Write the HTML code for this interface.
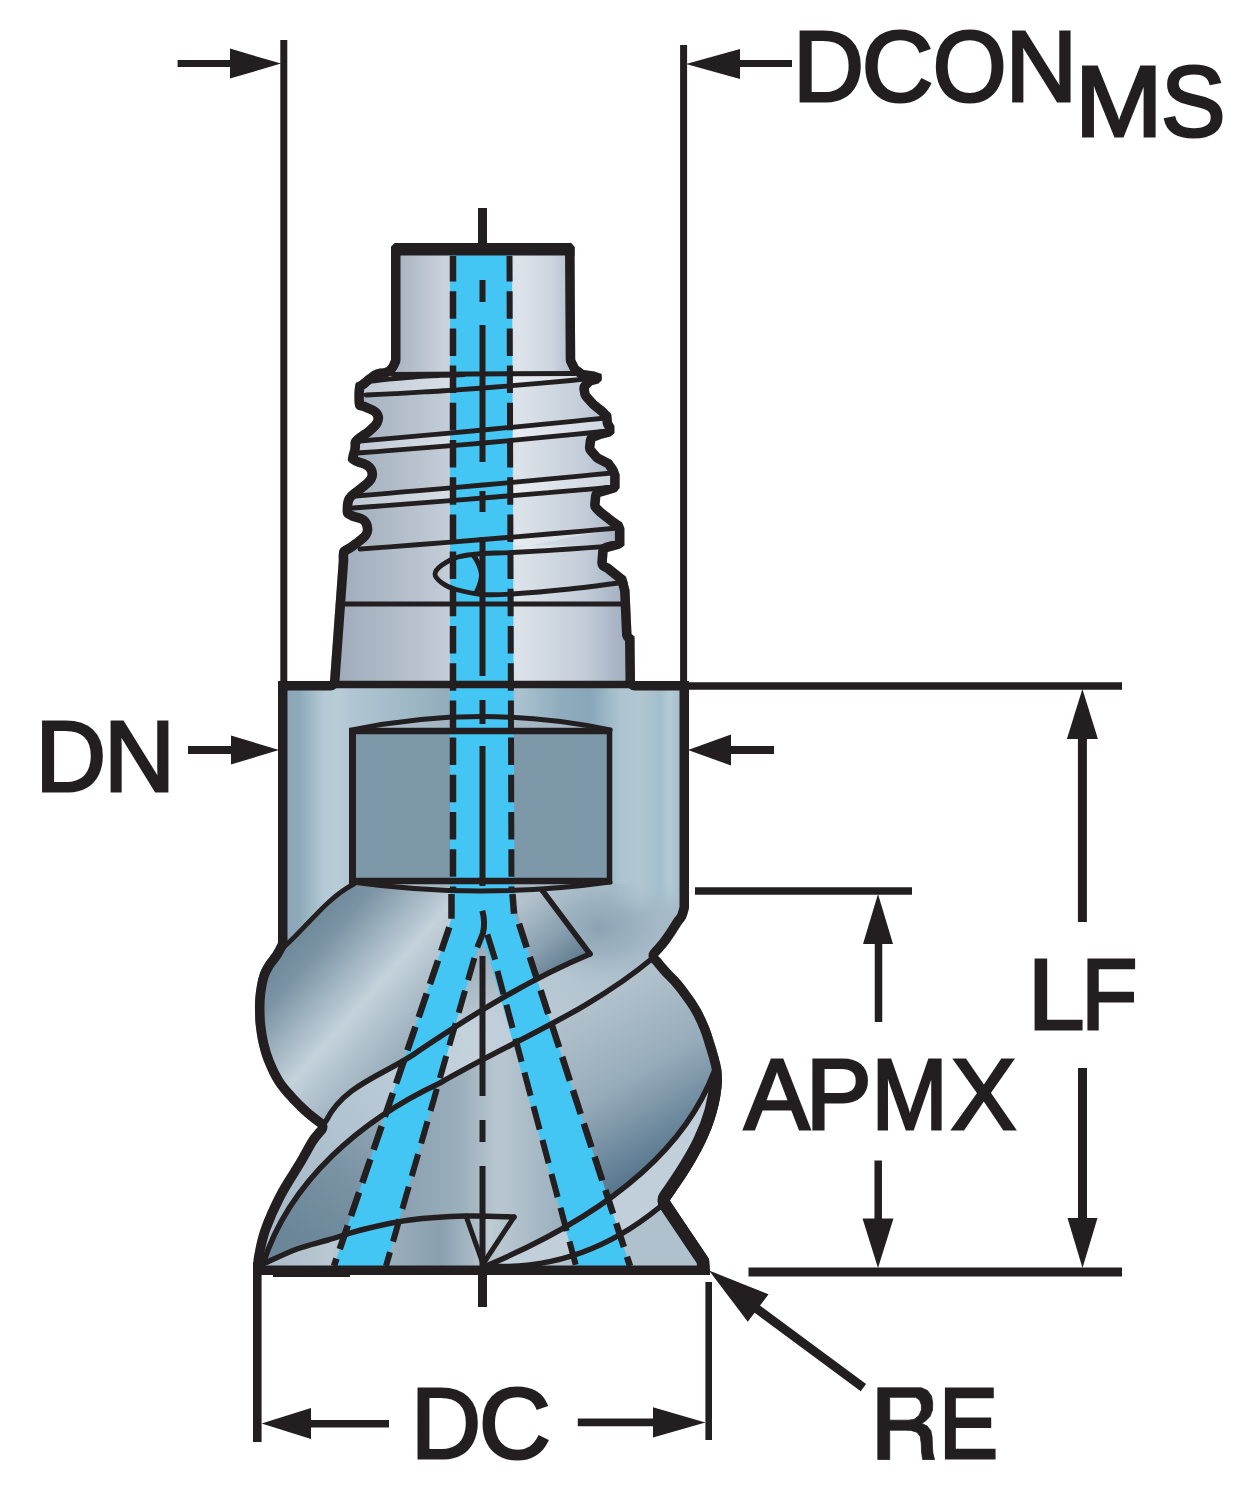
<!DOCTYPE html>
<html><head><meta charset="utf-8"><style>
html,body{margin:0;padding:0;background:#fff;}
svg{display:block;}
.t{font-family:"Liberation Sans",sans-serif;font-size:100px;fill:#231f20;stroke:#231f20;stroke-width:3px;}
</style></head><body>
<svg width="1255" height="1500" viewBox="0 0 1255 1500">
<rect width="1255" height="1500" fill="#fff"/>

<defs>
<clipPath id="sil"><path d="M391 247 L395 243 L571 243 L574.5 247 L575.2 359.6 L578.4 366 L584 370 L594.4 371.6 L601.6 374 L601.6 380.4 L598.4 383.6 L592 385.2 L588.8 388.4 L589.6 393.2 L596.8 401.2 L604.8 407.6 L611.2 414 L612 422 L614.4 426 L614.4 433.2 L610.4 436.4 L601.6 438.8 L595.2 441.2 L594.4 447.6 L600 454 L611.6 460 L617.2 468 L619.6 474.4 L619.6 488 L616.4 492 L608.4 494.4 L600.4 496.8 L599.6 504.8 L603.6 508.8 L614.8 517.6 L622 522.4 L624.4 528 L624.4 545.6 L619.6 548.8 L607.6 552 L606.8 562.4 L610 564 L626 576.8 L629.5 590 L631.5 634 L634.5 636.5 L635 681 L689 681 L689 908 C688.5 909.7 687.3 915.2 686.0 918.0 C684.7 920.8 683.0 922.0 681.0 925.0 C679.0 928.0 676.5 932.3 674.0 936.0 C671.5 939.7 668.7 943.7 666.0 947.0 C663.3 950.3 659.3 954.5 658.0 956.0 C658.5 956.5 659.2 956.9 661.0 959.0 C662.8 961.1 665.8 965.0 669.0 968.5 C672.2 972.0 676.5 975.9 680.0 980.0 C683.5 984.1 686.7 988.3 690.0 993.0 C693.3 997.7 696.8 1002.3 700.0 1008.0 C703.2 1013.7 706.7 1021.3 709.0 1027.0 C711.3 1032.7 712.4 1037.0 714.0 1042.0 C715.6 1047.0 717.2 1052.3 718.5 1057.0 C719.8 1061.7 720.9 1066.2 721.5 1070.0 C722.1 1073.8 721.9 1078.3 722.0 1080.0 C719.7 1126.0 695.6 1163.8 670.0 1200.0 L670 1201 L709 1259 L710 1275 L253 1275 L253.5 1266 C253.7 1264.0 253.2 1260.3 254.5 1254.0 C255.8 1247.7 257.4 1238.0 261.0 1228.0 C264.6 1218.0 270.0 1205.5 276.0 1194.0 C282.0 1182.5 291.5 1168.3 297.0 1159.0 C302.5 1149.7 305.5 1143.3 309.0 1138.0 C312.5 1132.7 316.5 1128.8 318.0 1127.0 C315.5 1125.0 308.0 1119.5 303.0 1115.0 C298.0 1110.5 292.7 1105.2 288.0 1100.0 C283.3 1094.8 278.8 1090.0 275.0 1084.0 C271.2 1078.0 267.7 1070.5 265.0 1064.0 C262.3 1057.5 260.5 1051.3 259.0 1045.0 C257.5 1038.7 256.5 1031.8 255.8 1026.0 C255.1 1020.2 255.1 1014.7 255.0 1010.0 C254.9 1005.3 255.0 1002.2 255.3 998.0 C255.6 993.8 256.2 989.2 257.0 985.0 C257.8 980.8 258.6 976.8 260.0 973.0 C261.4 969.2 263.4 965.8 265.5 962.5 C267.6 959.2 270.4 956.2 272.5 953.0 C274.6 949.8 277.1 944.7 278.0 943.0 L278 681 L330 681 L338.8 560 C338.8 559.0 338.5 555.9 338.8 554.0 C339.1 552.1 338.7 550.3 340.4 548.4 C342.1 546.5 346.0 545.1 349.2 542.8 C352.4 540.5 357.3 536.9 359.6 534.8 C361.9 532.7 362.7 531.9 362.8 530.0 C362.9 528.1 362.4 525.2 360.4 523.6 C358.4 522.0 353.6 521.7 350.8 520.4 C348.0 519.1 344.9 518.0 343.6 515.6 C342.3 513.2 342.7 508.9 342.8 506.0 C342.9 503.1 343.5 500.3 344.4 498.0 C345.3 495.7 346.4 494.4 348.4 492.4 C350.4 490.4 353.6 488.3 356.4 486.0 C359.2 483.7 363.3 480.8 365.2 478.8 C367.1 476.8 367.7 475.6 367.6 474.0 C367.5 472.4 366.4 470.5 364.4 469.2 C362.4 467.9 358.3 467.3 355.6 466.0 C352.9 464.7 349.6 462.9 348.4 461.2 C347.2 459.5 348.1 458.2 348.4 456.0 C348.7 453.8 349.9 450.7 350.4 448.0 C350.9 445.3 350.0 442.4 351.2 440.0 C352.4 437.6 355.2 435.6 357.6 433.6 C360.0 431.6 363.1 430.1 365.6 428.0 C368.1 425.9 371.7 422.9 372.8 420.8 C373.9 418.7 373.6 416.8 372.0 415.2 C370.4 413.6 366.0 412.7 363.2 411.2 C360.4 409.7 356.5 410.7 355.2 406.4 C353.9 402.1 354.4 389.9 355.2 385.6 C356.0 381.3 356.9 383.3 360.0 380.8 C363.1 378.3 369.2 372.7 373.6 370.4 C378.0 368.1 383.5 368.9 386.4 367.2 C389.3 365.5 390.2 361.2 391.0 360.0  Z"/></clipPath>
<linearGradient id="gShank" x1="391" x2="575" y1="0" y2="0" gradientUnits="userSpaceOnUse">
 <stop offset="0" stop-color="#a5b0bf"/><stop offset="0.28" stop-color="#c8d0db"/>
 <stop offset="0.7" stop-color="#dde3ea"/><stop offset="0.88" stop-color="#cbd4df"/><stop offset="1" stop-color="#adbac9"/>
</linearGradient>
<linearGradient id="gThread" x1="340" x2="630" y1="0" y2="0" gradientUnits="userSpaceOnUse">
 <stop offset="0" stop-color="#a0acbb"/><stop offset="0.3" stop-color="#bcc6d2"/>
 <stop offset="0.62" stop-color="#dce2e9"/><stop offset="0.85" stop-color="#c2ccd8"/><stop offset="1" stop-color="#9dabbb"/>
</linearGradient>
<linearGradient id="gBand" x1="340" x2="630" y1="0" y2="0" gradientUnits="userSpaceOnUse">
 <stop offset="0" stop-color="#bcc6d1"/><stop offset="0.35" stop-color="#d5dce4"/>
 <stop offset="0.62" stop-color="#e6ebf0"/><stop offset="1" stop-color="#c8d1dc"/>
</linearGradient>
<linearGradient id="gNeck" x1="279" x2="688" y1="0" y2="0" gradientUnits="userSpaceOnUse">
 <stop offset="0.02" stop-color="#8aa6b7"/><stop offset="0.05" stop-color="#8eaaba"/><stop offset="0.08" stop-color="#a0b9c7"/>
 <stop offset="0.112" stop-color="#b5cad6"/><stop offset="0.15" stop-color="#b8ccd7"/><stop offset="0.174" stop-color="#b0c6d2"/>
 <stop offset="0.3" stop-color="#a1bac8"/><stop offset="0.406" stop-color="#93adbc"/><stop offset="0.589" stop-color="#aac2cf"/>
 <stop offset="0.687" stop-color="#8facbe"/><stop offset="0.76" stop-color="#87a6b8"/><stop offset="0.834" stop-color="#acc4d0"/>
 <stop offset="0.883" stop-color="#b0c7d2"/><stop offset="0.932" stop-color="#a4becc"/><stop offset="0.956" stop-color="#b3cbd6"/><stop offset="0.98" stop-color="#a5becb"/>
</linearGradient>
<linearGradient id="gR1" x1="272" y1="935" x2="440" y2="1085" gradientUnits="userSpaceOnUse">
 <stop offset="0" stop-color="#668294"/><stop offset="0.2" stop-color="#7b94a5"/><stop offset="0.5" stop-color="#c4d2db"/><stop offset="0.75" stop-color="#9fb2bf"/><stop offset="1" stop-color="#8198a9"/>
</linearGradient>
<linearGradient id="gLand" x1="300" y1="1200" x2="680" y2="950" gradientUnits="userSpaceOnUse">
 <stop offset="0" stop-color="#a9bccb"/><stop offset="0.5" stop-color="#c4d2dc"/><stop offset="1" stop-color="#a6bac7"/>
</linearGradient>
<linearGradient id="gFade" x1="0" y1="880" x2="0" y2="915" gradientUnits="userSpaceOnUse">
 <stop offset="0" stop-color="#fff"/><stop offset="0.12" stop-color="#fff"/><stop offset="1" stop-color="#000"/>
</linearGradient>
<linearGradient id="gFadeL" x1="606" y1="0" x2="640" y2="0" gradientUnits="userSpaceOnUse">
 <stop offset="0" stop-color="#000" stop-opacity="1"/><stop offset="1" stop-color="#000" stop-opacity="0"/>
</linearGradient>
<mask id="mFade" maskUnits="userSpaceOnUse" x="590" y="870" width="120" height="60"><rect x="590" y="870" width="120" height="60" fill="url(#gFade)"/><rect x="590" y="884" width="120" height="46" fill="url(#gFadeL)"/></mask>
<radialGradient id="rgDark">
 <stop offset="0" stop-color="#7f99ab" stop-opacity="0.75"/><stop offset="0.5" stop-color="#8aa2b3" stop-opacity="0.45"/><stop offset="1" stop-color="#9fb3c1" stop-opacity="0"/>
</radialGradient>
<linearGradient id="gR4l" x1="420" y1="1090" x2="300" y2="1240" gradientUnits="userSpaceOnUse">
 <stop offset="0" stop-color="#9db1be"/><stop offset="0.6" stop-color="#7a93a4"/><stop offset="1" stop-color="#6a8698"/>
</linearGradient>
<linearGradient id="gR4m" x1="400" y1="0" x2="580" y2="0" gradientUnits="userSpaceOnUse">
 <stop offset="0" stop-color="#8aa0b0"/><stop offset="0.35" stop-color="#9cb0bd"/><stop offset="0.55" stop-color="#b9c7d0"/><stop offset="0.75" stop-color="#a8bac6"/><stop offset="1" stop-color="#94a9b8"/>
</linearGradient>
<linearGradient id="gR4r" x1="585" y1="1010" x2="675" y2="1165" gradientUnits="userSpaceOnUse">
 <stop offset="0" stop-color="#b0c1cc"/><stop offset="0.45" stop-color="#97acbb"/><stop offset="1" stop-color="#52728a"/>
</linearGradient>
<linearGradient id="gV" x1="470" y1="930" x2="500" y2="1010" gradientUnits="userSpaceOnUse">
 <stop offset="0" stop-color="#8ea3b2"/><stop offset="1" stop-color="#b9c7d1"/>
</linearGradient>
<linearGradient id="gR4" x1="320" y1="1230" x2="690" y2="1080" gradientUnits="userSpaceOnUse">
 <stop offset="0" stop-color="#6a8698"/><stop offset="0.4" stop-color="#a9bbc7"/><stop offset="0.7" stop-color="#8ea5b4"/><stop offset="1" stop-color="#577588"/>
</linearGradient>
<linearGradient id="gTri" x1="528" y1="898" x2="585" y2="968" gradientUnits="userSpaceOnUse">
 <stop offset="0" stop-color="#b2c2cc"/><stop offset="0.5" stop-color="#8aa1b1"/><stop offset="1" stop-color="#557287"/>
</linearGradient>
<linearGradient id="gLow" x1="260" y1="0" x2="710" y2="0" gradientUnits="userSpaceOnUse">
 <stop offset="0" stop-color="#a8bbc8"/><stop offset="0.155" stop-color="#b9c8d2"/><stop offset="0.31" stop-color="#97abb9"/><stop offset="0.4" stop-color="#8aa0b0"/>
 <stop offset="0.465" stop-color="#a3b6c2"/><stop offset="0.51" stop-color="#bfcdd5"/><stop offset="0.58" stop-color="#a6b8c4"/><stop offset="0.75" stop-color="#b4c4ce"/><stop offset="1" stop-color="#b9c8d2"/>
</linearGradient>
<linearGradient id="gLens" x1="352" x2="610" y1="0" y2="0" gradientUnits="userSpaceOnUse">
 <stop offset="0" stop-color="#b5c5d0"/><stop offset="0.4" stop-color="#9fb2bf"/><stop offset="1" stop-color="#a9bbc7"/>
</linearGradient>
</defs>
<path d="M391 247 L395 243 L571 243 L574.5 247 L575.2 359.6 L578.4 366 L584 370 L594.4 371.6 L601.6 374 L601.6 380.4 L598.4 383.6 L592 385.2 L588.8 388.4 L589.6 393.2 L596.8 401.2 L604.8 407.6 L611.2 414 L612 422 L614.4 426 L614.4 433.2 L610.4 436.4 L601.6 438.8 L595.2 441.2 L594.4 447.6 L600 454 L611.6 460 L617.2 468 L619.6 474.4 L619.6 488 L616.4 492 L608.4 494.4 L600.4 496.8 L599.6 504.8 L603.6 508.8 L614.8 517.6 L622 522.4 L624.4 528 L624.4 545.6 L619.6 548.8 L607.6 552 L606.8 562.4 L610 564 L626 576.8 L629.5 590 L631.5 634 L634.5 636.5 L635 681 L689 681 L689 908 C688.5 909.7 687.3 915.2 686.0 918.0 C684.7 920.8 683.0 922.0 681.0 925.0 C679.0 928.0 676.5 932.3 674.0 936.0 C671.5 939.7 668.7 943.7 666.0 947.0 C663.3 950.3 659.3 954.5 658.0 956.0 C658.5 956.5 659.2 956.9 661.0 959.0 C662.8 961.1 665.8 965.0 669.0 968.5 C672.2 972.0 676.5 975.9 680.0 980.0 C683.5 984.1 686.7 988.3 690.0 993.0 C693.3 997.7 696.8 1002.3 700.0 1008.0 C703.2 1013.7 706.7 1021.3 709.0 1027.0 C711.3 1032.7 712.4 1037.0 714.0 1042.0 C715.6 1047.0 717.2 1052.3 718.5 1057.0 C719.8 1061.7 720.9 1066.2 721.5 1070.0 C722.1 1073.8 721.9 1078.3 722.0 1080.0 C719.7 1126.0 695.6 1163.8 670.0 1200.0 L670 1201 L709 1259 L710 1275 L253 1275 L253.5 1266 C253.7 1264.0 253.2 1260.3 254.5 1254.0 C255.8 1247.7 257.4 1238.0 261.0 1228.0 C264.6 1218.0 270.0 1205.5 276.0 1194.0 C282.0 1182.5 291.5 1168.3 297.0 1159.0 C302.5 1149.7 305.5 1143.3 309.0 1138.0 C312.5 1132.7 316.5 1128.8 318.0 1127.0 C315.5 1125.0 308.0 1119.5 303.0 1115.0 C298.0 1110.5 292.7 1105.2 288.0 1100.0 C283.3 1094.8 278.8 1090.0 275.0 1084.0 C271.2 1078.0 267.7 1070.5 265.0 1064.0 C262.3 1057.5 260.5 1051.3 259.0 1045.0 C257.5 1038.7 256.5 1031.8 255.8 1026.0 C255.1 1020.2 255.1 1014.7 255.0 1010.0 C254.9 1005.3 255.0 1002.2 255.3 998.0 C255.6 993.8 256.2 989.2 257.0 985.0 C257.8 980.8 258.6 976.8 260.0 973.0 C261.4 969.2 263.4 965.8 265.5 962.5 C267.6 959.2 270.4 956.2 272.5 953.0 C274.6 949.8 277.1 944.7 278.0 943.0 L278 681 L330 681 L338.8 560 C338.8 559.0 338.5 555.9 338.8 554.0 C339.1 552.1 338.7 550.3 340.4 548.4 C342.1 546.5 346.0 545.1 349.2 542.8 C352.4 540.5 357.3 536.9 359.6 534.8 C361.9 532.7 362.7 531.9 362.8 530.0 C362.9 528.1 362.4 525.2 360.4 523.6 C358.4 522.0 353.6 521.7 350.8 520.4 C348.0 519.1 344.9 518.0 343.6 515.6 C342.3 513.2 342.7 508.9 342.8 506.0 C342.9 503.1 343.5 500.3 344.4 498.0 C345.3 495.7 346.4 494.4 348.4 492.4 C350.4 490.4 353.6 488.3 356.4 486.0 C359.2 483.7 363.3 480.8 365.2 478.8 C367.1 476.8 367.7 475.6 367.6 474.0 C367.5 472.4 366.4 470.5 364.4 469.2 C362.4 467.9 358.3 467.3 355.6 466.0 C352.9 464.7 349.6 462.9 348.4 461.2 C347.2 459.5 348.1 458.2 348.4 456.0 C348.7 453.8 349.9 450.7 350.4 448.0 C350.9 445.3 350.0 442.4 351.2 440.0 C352.4 437.6 355.2 435.6 357.6 433.6 C360.0 431.6 363.1 430.1 365.6 428.0 C368.1 425.9 371.7 422.9 372.8 420.8 C373.9 418.7 373.6 416.8 372.0 415.2 C370.4 413.6 366.0 412.7 363.2 411.2 C360.4 409.7 356.5 410.7 355.2 406.4 C353.9 402.1 354.4 389.9 355.2 385.6 C356.0 381.3 356.9 383.3 360.0 380.8 C363.1 378.3 369.2 372.7 373.6 370.4 C378.0 368.1 383.5 368.9 386.4 367.2 C389.3 365.5 390.2 361.2 391.0 360.0  Z" fill="url(#gThread)"/>
<g clip-path="url(#sil)"><rect x="380" y="240" width="200" height="136" fill="url(#gShank)"/>
<path d="M364.0 382.0 C366.1 381.8 372.3 381.0 376.5 380.5 C380.7 380.0 384.8 379.6 389.0 379.2 C393.2 378.8 397.3 378.4 401.5 378.0 C405.7 377.6 409.8 377.3 414.0 377.0 C418.2 376.7 422.3 376.4 426.5 376.2 C430.7 375.9 434.8 375.7 439.0 375.5 C443.2 375.3 447.3 375.1 451.5 375.0 C455.7 374.8 452.6 374.7 464.0 374.6 C475.4 374.5 501.5 374.5 520.0 374.3 C538.5 374.1 561.7 373.7 575.0 373.6 C588.3 373.5 595.8 373.5 600.0 373.5  L606.0 377.5 C595.1 378.0 580.5 379.5 570.8 380.5 C561.0 381.4 551.2 382.3 541.5 383.2 C531.8 384.1 522.0 384.9 512.2 385.7 C502.5 386.5 492.8 387.3 483.0 388.0 C473.2 388.7 463.5 389.4 453.8 390.1 C444.0 390.7 434.2 391.4 424.5 391.9 C414.8 392.5 405.0 393.1 395.2 393.6 C385.5 394.1 370.9 394.8 366.0 395.0  L354.0 395.0 L354.0 382.0 Z" fill="url(#gBand)"/>
<path d="M360.0 441.0 C365.1 440.6 380.5 439.2 390.8 438.3 C401.0 437.4 411.2 436.5 421.5 435.6 C431.8 434.7 442.0 433.8 452.2 432.8 C462.5 431.9 472.8 431.0 483.0 430.0 C493.2 429.0 503.5 428.1 513.8 427.1 C524.0 426.1 534.2 425.1 544.5 424.1 C554.8 423.1 565.0 422.1 575.2 421.1 C585.5 420.1 600.9 418.5 606.0 418.0  L614.0 431.0 C602.8 431.5 587.2 433.1 576.8 434.2 C566.4 435.2 556.0 436.2 545.6 437.2 C535.2 438.2 524.8 439.2 514.3 440.2 C503.9 441.1 493.5 442.1 483.0 443.0 C472.5 443.9 462.1 444.8 451.6 445.7 C441.1 446.6 430.6 447.4 420.1 448.2 C409.6 449.1 399.1 449.9 388.6 450.7 C378.1 451.5 362.3 452.6 357.0 453.0  L350.0 453.0 L350.0 441.0 Z" fill="url(#gBand)"/>
<path d="M356.0 496.0 C361.3 495.6 377.0 494.2 387.6 493.3 C398.1 492.4 408.7 491.5 419.2 490.6 C429.8 489.7 440.4 488.8 451.1 487.8 C461.7 486.9 472.3 486.0 483.0 485.0 C493.7 484.0 504.4 483.1 515.1 482.1 C525.8 481.1 536.5 480.1 547.2 479.1 C558.0 478.1 568.8 477.1 579.6 476.1 C590.4 475.1 606.6 473.5 612.0 473.0  L620.0 487.0 C608.5 487.5 592.1 488.9 581.2 489.8 C570.2 490.8 559.3 491.7 548.4 492.6 C537.5 493.5 526.6 494.4 515.7 495.3 C504.8 496.2 493.9 497.1 483.0 498.0 C472.1 498.9 461.3 499.7 450.4 500.6 C439.6 501.4 428.7 502.3 417.9 503.1 C407.0 504.0 396.2 504.8 385.4 505.6 C374.6 506.4 358.4 507.6 353.0 508.0  L346.0 508.0 L346.0 496.0 Z" fill="url(#gBand)"/>
<path d="M360.0 549.0 C364.9 548.6 379.6 547.6 389.6 546.8 C399.6 546.1 409.8 545.3 420.0 544.5 C430.2 543.7 440.6 542.9 451.1 542.1 C461.6 541.2 472.2 540.4 483.0 539.5 C493.8 538.6 504.6 537.7 515.6 536.8 C526.6 535.9 537.8 535.0 549.0 534.0 C560.2 533.0 571.6 532.1 583.1 531.1 C594.6 530.1 612.2 528.5 618.0 528.0  L489 553.5 C487.8 553.3 497.5 553.2 512.0 552.5 C526.5 551.8 551.8 550.2 570.0 549.0 C588.2 547.8 612.5 546.1 621.0 545.5  L350.0 545.5 L350.0 549.0 Z" fill="url(#gBand)"/>
<rect x="270" y="686" width="430" height="280" fill="url(#gNeck)"/>
<path d="M352 731 Q481 703 610 731 Z" fill="url(#gLens)"/>
<path d="M352 881 Q481 900 610 881 Z" fill="url(#gLens)"/>
<rect x="352" y="731" width="258" height="150" fill="#7c98a9"/>
<path d="M250 1280 L250 1100 L326 1121 C344.9 1082.8 388.6 1073.7 420.0 1050.0 C474.1 1013.7 529.6 979.2 590.0 954.0  L542 890 L610 884 L700 884 L700 960 L654 957 C590.1 1011.3 511.6 1041.4 440.0 1083.0 C362.7 1119.1 289.6 1180.1 263.0 1264.0  L263 1280 Z" fill="url(#gLand)"/>
<ellipse cx="598" cy="928" rx="75" ry="55" fill="url(#rgDark)"/>
<rect x="600" y="880" width="100" height="45" fill="url(#gNeck)" mask="url(#mFade)"/>
<clipPath id="cR1"><path d="M354.0 884.0 C325.7 898.6 307.6 926.4 284.0 947.0  C271.3 954.6 267.6 959.2 265.5 962.5 C263.4 965.8 261.4 969.2 260.0 973.0 C258.6 976.8 257.8 980.8 257.0 985.0 C256.2 989.2 255.6 993.8 255.3 998.0 C255.0 1002.2 254.9 1005.3 255.0 1010.0 C255.1 1014.7 255.1 1020.2 255.8 1026.0 C256.5 1031.8 257.5 1038.7 259.0 1045.0 C260.5 1051.3 262.3 1057.5 265.0 1064.0 C267.7 1070.5 271.2 1078.0 275.0 1084.0 C278.8 1090.0 283.3 1094.8 288.0 1100.0 C292.7 1105.2 298.0 1110.5 303.0 1115.0 C308.0 1119.5 315.5 1125.0 318.0 1127.0  L326 1121 C344.9 1082.8 388.6 1073.7 420.0 1050.0 C474.1 1013.7 529.6 979.2 590.0 954.0  L542 890 Z"/></clipPath>
<g clip-path="url(#cR1)"><rect x="240" y="870" width="400" height="270" fill="url(#gR1)"/><path d="M464 900 L482 928 L501 900 L540 890 L600 950 L590 1100 L420 1100 Z" fill="url(#gV)"/></g>
<path d="M512 890 L542 890 L590 954 L536 982 Z" fill="url(#gTri)"/>
<clipPath id="cR4"><path d="M654.0 957.0 C590.1 1011.3 511.6 1041.4 440.0 1083.0 C362.7 1119.1 289.6 1180.1 263.0 1264.0  C268.7 1261.5 286.2 1253.0 297.0 1249.0 C307.8 1245.0 316.7 1243.3 328.0 1240.0 C339.3 1236.7 351.3 1232.3 365.0 1229.0 C378.7 1225.7 393.2 1222.2 410.0 1220.0 C426.8 1217.8 448.7 1216.5 466.0 1216.0 C483.3 1215.5 506.0 1216.8 514.0 1217.0  L484 1266 L486 1266 C576.2 1227.9 677.8 1167.7 714.0 1072.0  L740 1000 L700 940 Z"/></clipPath>
<g clip-path="url(#cR4)"><rect x="240" y="940" width="500" height="340" fill="url(#gR4m)"/><path d="M464 930 L360 1266 L240 1266 L240 940 Z" fill="url(#gR4l)"/><path d="M501 930 L603 1266 L740 1266 L740 940 Z" fill="url(#gR4r)"/></g>
<path d="M714.0 1072.0 C677.8 1167.7 576.2 1227.9 486.0 1266.0  L486 1266 C556.4 1270.3 617.1 1244.9 668.0 1200.0  L740 1150 L740 1070 Z" fill="#c0cfd9"/>
<path d="M263.0 1264.0 C268.7 1261.5 286.2 1253.0 297.0 1249.0 C307.8 1245.0 316.7 1243.3 328.0 1240.0 C339.3 1236.7 351.3 1232.3 365.0 1229.0 C378.7 1225.7 393.2 1222.2 410.0 1220.0 C426.8 1217.8 448.7 1216.5 466.0 1216.0 C483.3 1215.5 506.0 1216.8 514.0 1217.0  L484 1266 L484 1280 L250 1280 Z" fill="url(#gLow)"/>
<path d="M668 1200 L720 1262 L720 1280 L486 1280 L486 1266 C556.4 1270.3 617.1 1244.9 668.0 1200.0  Z" fill="#afc1cd"/>
<path d="M450 250 L512 250 L514.5 918 L450 918 Z" fill="#43c6f4"/>
<path d="M450 890 L451.5 918 L449 927 L334 1266 L386 1266 L477 950 L482 945 L487 950 L576 1266 L630 1266 L519 924 L514 913 L514 890 Z" fill="#43c6f4"/></g>
<g clip-path="url(#sil)"><rect x="391" y="243" width="184" height="12.5" fill="#231f20"/>
<path d="M364.0 382.0 C366.1 381.8 372.3 381.0 376.5 380.5 C380.7 380.0 384.8 379.6 389.0 379.2 C393.2 378.8 397.3 378.4 401.5 378.0 C405.7 377.6 409.8 377.3 414.0 377.0 C418.2 376.7 422.3 376.4 426.5 376.2 C430.7 375.9 434.8 375.7 439.0 375.5 C443.2 375.3 447.3 375.1 451.5 375.0 C455.7 374.8 461.9 374.7 464.0 374.6 " fill="none" stroke="#231f20" stroke-width="4.8" stroke-linecap="round" stroke-linejoin="round" />
<path d="M366.0 395.0 C370.9 394.8 385.5 394.1 395.2 393.6 C405.0 393.1 414.8 392.5 424.5 391.9 C434.2 391.4 444.0 390.7 453.8 390.1 C463.5 389.4 473.2 388.7 483.0 388.0 C492.8 387.3 502.5 386.5 512.2 385.7 C522.0 384.9 531.8 384.1 541.5 383.2 C551.2 382.3 561.0 381.4 570.8 380.5 C580.5 379.5 595.1 378.0 600.0 377.5 " fill="none" stroke="#231f20" stroke-width="4.8" stroke-linecap="round" stroke-linejoin="round" />
<path d="M360.0 441.0 C365.1 440.6 380.5 439.2 390.8 438.3 C401.0 437.4 411.2 436.5 421.5 435.6 C431.8 434.7 442.0 433.8 452.2 432.8 C462.5 431.9 472.8 431.0 483.0 430.0 C493.2 429.0 503.5 428.1 513.8 427.1 C524.0 426.1 534.2 425.1 544.5 424.1 C554.8 423.1 565.0 422.1 575.2 421.1 C585.5 420.1 600.9 418.5 606.0 418.0 " fill="none" stroke="#231f20" stroke-width="4.8" stroke-linecap="round" stroke-linejoin="round" />
<path d="M357.0 453.0 C362.3 452.6 378.1 451.5 388.6 450.7 C399.1 449.9 409.6 449.1 420.1 448.2 C430.6 447.4 441.1 446.6 451.6 445.7 C462.1 444.8 472.5 443.9 483.0 443.0 C493.5 442.1 503.9 441.1 514.3 440.2 C524.8 439.2 535.2 438.2 545.6 437.2 C556.0 436.2 566.4 435.2 576.8 434.2 C587.2 433.1 602.8 431.5 608.0 431.0 " fill="none" stroke="#231f20" stroke-width="4.8" stroke-linecap="round" stroke-linejoin="round" />
<path d="M356.0 496.0 C361.3 495.6 377.0 494.2 387.6 493.3 C398.1 492.4 408.7 491.5 419.2 490.6 C429.8 489.7 440.4 488.8 451.1 487.8 C461.7 486.9 472.3 486.0 483.0 485.0 C493.7 484.0 504.4 483.1 515.1 482.1 C525.8 481.1 536.5 480.1 547.2 479.1 C558.0 478.1 568.8 477.1 579.6 476.1 C590.4 475.1 606.6 473.5 612.0 473.0 " fill="none" stroke="#231f20" stroke-width="4.8" stroke-linecap="round" stroke-linejoin="round" />
<path d="M353.0 508.0 C358.4 507.6 374.6 506.4 385.4 505.6 C396.2 504.8 407.0 504.0 417.9 503.1 C428.7 502.3 439.6 501.4 450.4 500.6 C461.3 499.7 472.1 498.9 483.0 498.0 C493.9 497.1 504.8 496.2 515.7 495.3 C526.6 494.4 537.5 493.5 548.4 492.6 C559.3 491.7 570.2 490.8 581.2 489.8 C592.1 488.9 608.5 487.5 614.0 487.0 " fill="none" stroke="#231f20" stroke-width="4.8" stroke-linecap="round" stroke-linejoin="round" />
<path d="M360.0 549.0 C364.9 548.6 379.6 547.6 389.6 546.8 C399.6 546.1 409.8 545.3 420.0 544.5 C430.2 543.7 440.6 542.9 451.1 542.1 C461.6 541.2 472.2 540.4 483.0 539.5 C493.8 538.6 504.6 537.7 515.6 536.8 C526.6 535.9 537.8 535.0 549.0 534.0 C560.2 533.0 571.6 532.1 583.1 531.1 C594.6 530.1 612.2 528.5 618.0 528.0 " fill="none" stroke="#231f20" stroke-width="4.8" stroke-linecap="round" stroke-linejoin="round" />
<path d="M393 374.5 L575 373.5" fill="none" stroke="#231f20" stroke-width="5" stroke-linecap="round" stroke-linejoin="round" />
<path d="M621.0 545.5 C612.5 546.1 588.2 547.8 570.0 549.0 C551.8 550.2 526.5 551.8 512.0 552.5 C497.5 553.2 492.0 552.8 483.0 553.5 C474.0 554.2 464.8 555.1 458.0 557.0 C451.2 558.9 445.8 562.2 442.0 565.0 C438.2 567.8 435.0 571.0 435.0 574.0 C435.0 577.0 438.5 580.4 442.0 583.0 C445.5 585.6 449.2 587.6 456.0 589.5 C462.8 591.4 473.7 593.8 483.0 594.5 C492.3 595.2 497.5 594.9 512.0 594.0 C526.5 593.1 551.0 591.0 570.0 589.0 C589.0 587.0 616.7 583.2 626.0 582.0 " fill="none" stroke="#231f20" stroke-width="4.8" stroke-linecap="round" stroke-linejoin="round" />
<path d="M474.0 556.0 C474.8 557.5 477.8 561.8 479.0 565.0 C480.2 568.2 481.4 571.7 481.5 575.0 C481.6 578.3 480.4 582.0 479.5 585.0 C478.6 588.0 476.6 591.7 476.0 593.0 " fill="none" stroke="#231f20" stroke-width="5" stroke-linecap="round" stroke-linejoin="round" />
<path d="M338 604 L626 604" fill="none" stroke="#231f20" stroke-width="5" stroke-linecap="round" stroke-linejoin="round" />
<path d="M330 684.5 L634 684.5" fill="none" stroke="#231f20" stroke-width="7.5" stroke-linecap="butt" stroke-linejoin="round" />
<path d="M349 731 L612 731" fill="none" stroke="#231f20" stroke-width="6.5" stroke-linecap="butt" stroke-linejoin="round" />
<path d="M349 881 L612 881" fill="none" stroke="#231f20" stroke-width="6.5" stroke-linecap="butt" stroke-linejoin="round" />
<path d="M352.5 728 L352.5 884" fill="none" stroke="#231f20" stroke-width="7" stroke-linecap="butt" stroke-linejoin="round" />
<path d="M609.5 728 L609.5 884" fill="none" stroke="#231f20" stroke-width="5.5" stroke-linecap="butt" stroke-linejoin="round" />
<path d="M352 730 Q481 703 610 730" fill="none" stroke="#231f20" stroke-width="5" stroke-linecap="round" stroke-linejoin="round" />
<path d="M352 882 Q481 900 610 882" fill="none" stroke="#231f20" stroke-width="5" stroke-linecap="round" stroke-linejoin="round" />
<path d="M354.0 884.0 C325.7 898.6 307.6 926.4 284.0 947.0 " fill="none" stroke="#231f20" stroke-width="4.8" stroke-linecap="round" stroke-linejoin="round" />
<path d="M326.0 1121.0 C344.9 1082.8 388.6 1073.7 420.0 1050.0 C474.1 1013.7 529.6 979.2 590.0 954.0 " fill="none" stroke="#231f20" stroke-width="5.5" stroke-linecap="round" stroke-linejoin="round" />
<path d="M542 890 L590 954" fill="none" stroke="#231f20" stroke-width="5.5" stroke-linecap="round" stroke-linejoin="round" />
<path d="M654.0 957.0 C590.1 1011.3 511.6 1041.4 440.0 1083.0 C362.7 1119.1 289.6 1180.1 263.0 1264.0 " fill="none" stroke="#231f20" stroke-width="5.5" stroke-linecap="round" stroke-linejoin="round" />
<path d="M263.0 1264.0 C268.7 1261.5 286.2 1253.0 297.0 1249.0 C307.8 1245.0 316.7 1243.3 328.0 1240.0 C339.3 1236.7 351.3 1232.3 365.0 1229.0 C378.7 1225.7 393.2 1222.2 410.0 1220.0 C426.8 1217.8 448.7 1216.5 466.0 1216.0 C483.3 1215.5 506.0 1216.8 514.0 1217.0 " fill="none" stroke="#231f20" stroke-width="5.5" stroke-linecap="round" stroke-linejoin="round" />
<path d="M466 1216 L483 1264 L514 1217" fill="none" stroke="#231f20" stroke-width="5" stroke-linecap="round" stroke-linejoin="round" />
<path d="M714.0 1072.0 C677.8 1167.7 576.2 1227.9 486.0 1266.0 " fill="none" stroke="#231f20" stroke-width="5.5" stroke-linecap="round" stroke-linejoin="round" />
<path d="M668.0 1200.0 C617.1 1244.9 556.4 1270.3 486.0 1266.0 " fill="none" stroke="#231f20" stroke-width="5.5" stroke-linecap="round" stroke-linejoin="round" />
<path d="M453 256 L453 893" fill="none" stroke="#231f20" stroke-width="6.5" stroke-linecap="butt" stroke-linejoin="round" stroke-dasharray="27.5 9.7" stroke-dashoffset="2"/>
<path d="M509.5 256 L511.5 893" fill="none" stroke="#231f20" stroke-width="6" stroke-linecap="butt" stroke-linejoin="round" stroke-dasharray="27.5 9.7" stroke-dashoffset="2"/>
<path d="M451.5 894 L451.5 918.7" fill="none" stroke="#231f20" stroke-width="6.5" stroke-linecap="butt" stroke-linejoin="round" />
<path d="M449.3 927.3 L334 1266" fill="none" stroke="#231f20" stroke-width="6.5" stroke-linecap="butt" stroke-linejoin="round" stroke-dasharray="25 10"/>
<path d="M512.5 894 L514 913.7" fill="none" stroke="#231f20" stroke-width="6.5" stroke-linecap="butt" stroke-linejoin="round" />
<path d="M519 923.7 L630 1266" fill="none" stroke="#231f20" stroke-width="6.5" stroke-linecap="butt" stroke-linejoin="round" stroke-dasharray="25 10"/>
<path d="M482.3 910.8 Q485.5 922 483 933 L477.3 947.4" fill="none" stroke="#231f20" stroke-width="6" stroke-linecap="butt" stroke-linejoin="round" />
<path d="M474.4 958 L386 1266" fill="none" stroke="#231f20" stroke-width="6" stroke-linecap="butt" stroke-linejoin="round" stroke-dasharray="23 11"/>
<path d="M487.3 934.5 L495.2 959.6" fill="none" stroke="#231f20" stroke-width="6" stroke-linecap="butt" stroke-linejoin="round" />
<path d="M497.4 971 L576 1266" fill="none" stroke="#231f20" stroke-width="6" stroke-linecap="butt" stroke-linejoin="round" stroke-dasharray="24 11"/>
<line x1="482.5" y1="255" x2="482.5" y2="255" stroke="#231f20" stroke-width="6" />
<line x1="482.5" y1="280" x2="482.5" y2="302" stroke="#231f20" stroke-width="6" />
<line x1="482.5" y1="325" x2="482.5" y2="462" stroke="#231f20" stroke-width="6" />
<line x1="482.5" y1="491" x2="482.5" y2="512" stroke="#231f20" stroke-width="6" />
<line x1="482.5" y1="537" x2="482.5" y2="676" stroke="#231f20" stroke-width="6" />
<line x1="482.5" y1="700" x2="482.5" y2="724" stroke="#231f20" stroke-width="6" />
<line x1="482.5" y1="746" x2="482.5" y2="886" stroke="#231f20" stroke-width="6" />
<line x1="482.5" y1="956" x2="482.5" y2="1096" stroke="#231f20" stroke-width="6" />
<line x1="482.5" y1="1120" x2="482.5" y2="1142" stroke="#231f20" stroke-width="6" />
<line x1="482.5" y1="1166" x2="482.5" y2="1270" stroke="#231f20" stroke-width="6" /></g>
<path d="M391 247 L395 243 L571 243 L574.5 247 L575.2 359.6 L578.4 366 L584 370 L594.4 371.6 L601.6 374 L601.6 380.4 L598.4 383.6 L592 385.2 L588.8 388.4 L589.6 393.2 L596.8 401.2 L604.8 407.6 L611.2 414 L612 422 L614.4 426 L614.4 433.2 L610.4 436.4 L601.6 438.8 L595.2 441.2 L594.4 447.6 L600 454 L611.6 460 L617.2 468 L619.6 474.4 L619.6 488 L616.4 492 L608.4 494.4 L600.4 496.8 L599.6 504.8 L603.6 508.8 L614.8 517.6 L622 522.4 L624.4 528 L624.4 545.6 L619.6 548.8 L607.6 552 L606.8 562.4 L610 564 L626 576.8 L629.5 590 L631.5 634 L634.5 636.5 L635 681 L689 681 L689 908 C688.5 909.7 687.3 915.2 686.0 918.0 C684.7 920.8 683.0 922.0 681.0 925.0 C679.0 928.0 676.5 932.3 674.0 936.0 C671.5 939.7 668.7 943.7 666.0 947.0 C663.3 950.3 659.3 954.5 658.0 956.0 C658.5 956.5 659.2 956.9 661.0 959.0 C662.8 961.1 665.8 965.0 669.0 968.5 C672.2 972.0 676.5 975.9 680.0 980.0 C683.5 984.1 686.7 988.3 690.0 993.0 C693.3 997.7 696.8 1002.3 700.0 1008.0 C703.2 1013.7 706.7 1021.3 709.0 1027.0 C711.3 1032.7 712.4 1037.0 714.0 1042.0 C715.6 1047.0 717.2 1052.3 718.5 1057.0 C719.8 1061.7 720.9 1066.2 721.5 1070.0 C722.1 1073.8 721.9 1078.3 722.0 1080.0 C719.7 1126.0 695.6 1163.8 670.0 1200.0 L670 1201 L709 1259 L710 1275 L253 1275 L253.5 1266 C253.7 1264.0 253.2 1260.3 254.5 1254.0 C255.8 1247.7 257.4 1238.0 261.0 1228.0 C264.6 1218.0 270.0 1205.5 276.0 1194.0 C282.0 1182.5 291.5 1168.3 297.0 1159.0 C302.5 1149.7 305.5 1143.3 309.0 1138.0 C312.5 1132.7 316.5 1128.8 318.0 1127.0 C315.5 1125.0 308.0 1119.5 303.0 1115.0 C298.0 1110.5 292.7 1105.2 288.0 1100.0 C283.3 1094.8 278.8 1090.0 275.0 1084.0 C271.2 1078.0 267.7 1070.5 265.0 1064.0 C262.3 1057.5 260.5 1051.3 259.0 1045.0 C257.5 1038.7 256.5 1031.8 255.8 1026.0 C255.1 1020.2 255.1 1014.7 255.0 1010.0 C254.9 1005.3 255.0 1002.2 255.3 998.0 C255.6 993.8 256.2 989.2 257.0 985.0 C257.8 980.8 258.6 976.8 260.0 973.0 C261.4 969.2 263.4 965.8 265.5 962.5 C267.6 959.2 270.4 956.2 272.5 953.0 C274.6 949.8 277.1 944.7 278.0 943.0 L278 681 L330 681 L338.8 560 C338.8 559.0 338.5 555.9 338.8 554.0 C339.1 552.1 338.7 550.3 340.4 548.4 C342.1 546.5 346.0 545.1 349.2 542.8 C352.4 540.5 357.3 536.9 359.6 534.8 C361.9 532.7 362.7 531.9 362.8 530.0 C362.9 528.1 362.4 525.2 360.4 523.6 C358.4 522.0 353.6 521.7 350.8 520.4 C348.0 519.1 344.9 518.0 343.6 515.6 C342.3 513.2 342.7 508.9 342.8 506.0 C342.9 503.1 343.5 500.3 344.4 498.0 C345.3 495.7 346.4 494.4 348.4 492.4 C350.4 490.4 353.6 488.3 356.4 486.0 C359.2 483.7 363.3 480.8 365.2 478.8 C367.1 476.8 367.7 475.6 367.6 474.0 C367.5 472.4 366.4 470.5 364.4 469.2 C362.4 467.9 358.3 467.3 355.6 466.0 C352.9 464.7 349.6 462.9 348.4 461.2 C347.2 459.5 348.1 458.2 348.4 456.0 C348.7 453.8 349.9 450.7 350.4 448.0 C350.9 445.3 350.0 442.4 351.2 440.0 C352.4 437.6 355.2 435.6 357.6 433.6 C360.0 431.6 363.1 430.1 365.6 428.0 C368.1 425.9 371.7 422.9 372.8 420.8 C373.9 418.7 373.6 416.8 372.0 415.2 C370.4 413.6 366.0 412.7 363.2 411.2 C360.4 409.7 356.5 410.7 355.2 406.4 C353.9 402.1 354.4 389.9 355.2 385.6 C356.0 381.3 356.9 383.3 360.0 380.8 C363.1 378.3 369.2 372.7 373.6 370.4 C378.0 368.1 383.5 368.9 386.4 367.2 C389.3 365.5 390.2 361.2 391.0 360.0  Z" fill="none" stroke="#231f20" stroke-width="19" stroke-linejoin="round" clip-path="url(#sil)"/>
<rect x="273" y="1270" width="77" height="7" fill="#231f20"/>
<path d="M722.0 1080.0 C719.7 1126.0 695.6 1163.8 670.0 1200.0  L670 1201 L709 1259 L710 1275" fill="none" stroke="#231f20" stroke-width="25" stroke-linejoin="round" clip-path="url(#sil)"/>
<line x1="283.8" y1="40" x2="283.8" y2="684" stroke="#231f20" stroke-width="7" />
<line x1="177.6" y1="63.6" x2="235" y2="63.6" stroke="#231f20" stroke-width="7" />
<polygon points="281.0,63.6 230.0,78.6 230.0,48.6" fill="#231f20"/>
<line x1="683.6" y1="45" x2="683.6" y2="684" stroke="#231f20" stroke-width="7" />
<line x1="735" y1="63.6" x2="792" y2="63.6" stroke="#231f20" stroke-width="7" />
<polygon points="686.0,64.0 740.0,49.0 740.0,79.0" fill="#231f20"/>
<line x1="188" y1="750" x2="235" y2="750" stroke="#231f20" stroke-width="8" />
<polygon points="279.0,750.0 231.0,764.5 231.0,735.5" fill="#231f20"/>
<line x1="726" y1="750" x2="774" y2="750" stroke="#231f20" stroke-width="8" />
<polygon points="688.0,750.0 731.0,734.5 731.0,765.5" fill="#231f20"/>
<line x1="688" y1="686" x2="1122" y2="686" stroke="#231f20" stroke-width="7.5" />
<line x1="1082.4" y1="735" x2="1082.4" y2="922" stroke="#231f20" stroke-width="9" />
<polygon points="1082.4,689.0 1097.9,739.0 1066.9,739.0" fill="#231f20"/>
<line x1="1082.5" y1="1068" x2="1082.5" y2="1222" stroke="#231f20" stroke-width="9" />
<polygon points="1082.5,1268.0 1067.5,1218.0 1097.5,1218.0" fill="#231f20"/>
<line x1="748.5" y1="1272" x2="1122" y2="1272" stroke="#231f20" stroke-width="9" />
<line x1="695" y1="891" x2="912" y2="891" stroke="#231f20" stroke-width="7.5" />
<line x1="878.5" y1="940" x2="878.5" y2="1022" stroke="#231f20" stroke-width="7.5" />
<polygon points="878.0,894.0 893.0,944.0 863.0,944.0" fill="#231f20"/>
<line x1="878.2" y1="1160.5" x2="878.2" y2="1222" stroke="#231f20" stroke-width="7.5" />
<polygon points="878.0,1268.0 862.5,1218.5 893.5,1218.5" fill="#231f20"/>
<line x1="257.3" y1="1262" x2="257.3" y2="1442" stroke="#231f20" stroke-width="8.6" />
<line x1="708.7" y1="1282" x2="708.7" y2="1440" stroke="#231f20" stroke-width="6.6" />
<line x1="306" y1="1423.8" x2="389" y2="1423.8" stroke="#231f20" stroke-width="7.6" />
<polygon points="261.6,1423.5 311.0,1408.0 311.0,1439.0" fill="#231f20"/>
<line x1="577.8" y1="1422.4" x2="658" y2="1422.4" stroke="#231f20" stroke-width="7.6" />
<polygon points="705.4,1422.4 653.0,1437.6 653.0,1407.2" fill="#231f20"/>
<line x1="745" y1="1300" x2="863.4" y2="1387.7" stroke="#231f20" stroke-width="9" />
<polygon points="709.0,1270.4 768.6,1294.3 747.8,1321.7" fill="#231f20"/>
<line x1="482.5" y1="208" x2="482.5" y2="246" stroke="#231f20" stroke-width="9" />
<line x1="482.5" y1="1270" x2="482.5" y2="1307" stroke="#231f20" stroke-width="9" />
<text x="0" y="101" class="t" transform="translate(793.11 0) scale(0.9836 1)">D</text>
<text x="0" y="101" class="t" transform="translate(861.64 0) scale(0.9908 1)">C</text>
<text x="0" y="101" class="t" transform="translate(932.75 0) scale(0.9486 1)">O</text>
<text x="0" y="101" class="t" transform="translate(1005.45 0) scale(0.9931 1)">N</text>
<text x="0" y="136" class="t" transform="translate(1075.03 0) scale(1.0522 1)">M</text>
<text x="0" y="136" class="t" transform="translate(1161.10 0) scale(0.9667 1)">S</text>
<text x="0" y="791" class="t" transform="translate(35.56 0) scale(0.9770 1)">D</text>
<text x="0" y="791" class="t" transform="translate(104.12 0) scale(0.9828 1)">N</text>
<text x="0" y="1029" class="t" transform="translate(1027.86 0) scale(1.0196 1)">L</text>
<text x="0" y="1029" class="t" transform="translate(1081.16 0) scale(0.9196 1)">F</text>
<text x="0" y="1129.5" class="t" transform="translate(744.16 0) scale(0.9783 1)">A</text>
<text x="0" y="1129.5" class="t" transform="translate(805.78 0) scale(0.9891 1)">P</text>
<text x="0" y="1129.5" class="t" transform="translate(871.39 0) scale(0.9159 1)">M</text>
<text x="0" y="1129.5" class="t" transform="translate(951.00 0) scale(0.9773 1)">X</text>
<text x="0" y="1458.5" class="t" transform="translate(411.02 0) scale(0.9689 1)">D</text>
<text x="0" y="1458.5" class="t" transform="translate(478.93 0) scale(0.9923 1)">C</text>
<text x="0" y="1458.5" class="t" transform="translate(939.10 0) scale(0.8857 1)">E</text>
<path d="M877.8 1387.8 L921.4 1387.8 L927.5 1390.5 L931.5 1396 L932.7 1403 L932.5 1410 L930 1416.5 L925 1421.5 L921.5 1423.2 L927 1426 L930.8 1430.5 L932.1 1437 L932.4 1446 L932.9 1453 L934.5 1459.5 L922.6 1459.5 L921.6 1452 L921.2 1443 L920.2 1436.5 L917 1432.3 L911 1430.4 L905.9 1430.2 L889.7 1430.2 L889.7 1459.5 L877.8 1459.5 Z M889.7 1397.3 L915.5 1397.3 L919.5 1400 L921.4 1405 L921.4 1410 L919 1415.5 L914 1419.5 L908 1420.2 L889.7 1420.2 Z" fill="#231f20" fill-rule="evenodd" stroke="#231f20" stroke-width="0.8" stroke-linejoin="round"/>
</svg></body></html>
